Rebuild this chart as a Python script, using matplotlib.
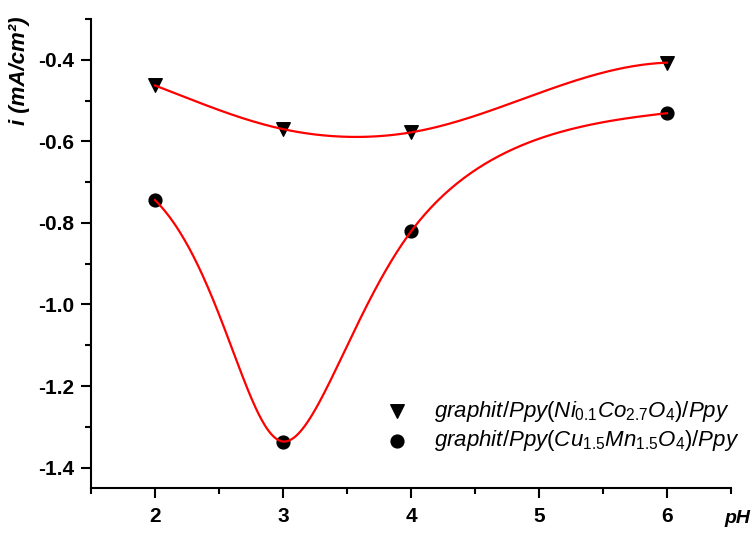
import numpy as np
import matplotlib.pyplot as plt
from matplotlib.ticker import MultipleLocator

plt.rcParams['font.family'] = 'Liberation Sans'
plt.rcParams['mathtext.fontset'] = 'custom'
plt.rcParams['mathtext.it'] = 'Liberation Sans:italic'
plt.rcParams['mathtext.rm'] = 'Liberation Sans'

# data
ph = [2, 3, 4, 6]
i_nico = [-0.463, -0.570, -0.578, -0.407]
i_cumn = [-0.744, -1.336, -0.821, -0.531]
label_nico = r'$\mathit{graphit/Ppy(Ni_{0.1}Co_{2.7}O_{4})/Ppy}$'
label_cumn = r'$\mathit{graphit/Ppy(Cu_{1.5}Mn_{1.5}O_{4})/Ppy}$'
# end slopes of the smoothing curves (dy/dx at pH 2 and pH 6)
ends_nico = (-0.12, 0.012)
ends_cumn = (-0.31, 0.035)


def clamped_spline(t, y, d0, d1, ts):
    t = np.asarray(t, float)
    y = np.asarray(y, float)
    k = len(t)
    h = np.diff(t)
    A = np.zeros((k, k))
    b = np.zeros(k)
    A[0, 0], A[0, 1] = 2 * h[0], h[0]
    b[0] = 6 * ((y[1] - y[0]) / h[0] - d0)
    A[-1, -2], A[-1, -1] = h[-1], 2 * h[-1]
    b[-1] = 6 * (d1 - (y[-1] - y[-2]) / h[-1])
    for j in range(1, k - 1):
        A[j, j - 1] = h[j - 1]
        A[j, j] = 2 * (h[j - 1] + h[j])
        A[j, j + 1] = h[j]
        b[j] = 6 * ((y[j + 1] - y[j]) / h[j] - (y[j] - y[j - 1]) / h[j - 1])
    m = np.linalg.solve(A, b)
    idx = np.clip(np.searchsorted(t, ts) - 1, 0, k - 2)
    t0, t1 = t[idx], t[idx + 1]
    hh = t1 - t0
    a, c = t1 - ts, ts - t0
    return (m[idx] * a**3 + m[idx + 1] * c**3) / (6 * hh) \
        + (y[idx] / hh - m[idx] * hh / 6) * a \
        + (y[idx + 1] / hh - m[idx + 1] * hh / 6) * c


def param_spline(x, y, ends, sx=128.0, sy=408.0, n=300):
    # chord-length parametric spline in screen pixels, clamped end directions
    px = np.asarray(x, float) * sx
    py = np.asarray(y, float) * sy
    t = np.concatenate([[0], np.cumsum(np.hypot(np.diff(px), np.diff(py)))])
    ts = np.linspace(0, t[-1], n)
    dirs = []
    for s in ends:
        v = np.array([sx, s * sy])
        dirs.append(v / np.hypot(*v))
    xs = clamped_spline(t, px, dirs[0][0], dirs[1][0], ts) / sx
    ys = clamped_spline(t, py, dirs[0][1], dirs[1][1], ts) / sy
    return xs, ys


fig = plt.figure(figsize=(7.55, 5.34), dpi=100)
ax = fig.add_axes([91 / 755, 46 / 534, 640 / 755, 469 / 534])

ax.scatter(ph, i_nico, marker='v', s=95, color='black', label=label_nico, zorder=2)
ax.scatter(ph, i_cumn, marker='o', s=85, color='black', label=label_cumn, zorder=2)
xs, ys = param_spline(ph, i_nico, ends_nico)
ax.plot(xs, ys, color='red', lw=1.6, zorder=3)
xs, ys = param_spline(ph, i_cumn, ends_cumn)
ax.plot(xs, ys, color='red', lw=1.6, zorder=3)

ax.set_xlim(1.5, 6.5)
ax.set_ylim(-1.45, -0.3)
ax.xaxis.set_major_locator(MultipleLocator(1))
ax.xaxis.set_minor_locator(MultipleLocator(0.5))
ax.yaxis.set_major_locator(MultipleLocator(0.2))
ax.yaxis.set_minor_locator(MultipleLocator(0.1))
ax.yaxis.set_major_formatter(lambda v, p: f'{v:.1f}'.replace('\u2212', '-'))

ax.spines['top'].set_visible(False)
ax.spines['right'].set_visible(False)
for s in ['left', 'bottom']:
    ax.spines[s].set_linewidth(1.5)
ax.tick_params(which='major', direction='out', length=7, width=1.5, labelsize=15)
ax.tick_params(axis='x', which='major', pad=7)
ax.tick_params(axis='y', which='major', pad=5)
ax.tick_params(which='minor', direction='out', length=4, width=1.5)
for lab in ax.get_xticklabels() + ax.get_yticklabels():
    lab.set_fontweight('bold')

ax.set_ylabel('i (mA/cm²)', fontsize=16, fontweight='bold', style='italic')
ax.yaxis.set_label_coords(-0.095, 0.89)
ax.text(1.01, -0.066, 'pH', transform=ax.transAxes, fontsize=14,
        fontweight='bold', style='italic', ha='center', va='center')

ax.legend(loc='lower right', bbox_to_anchor=(1.045, 0.031), frameon=False,
          fontsize=16, handletextpad=0.7, labelspacing=0.2, scatterpoints=1)

fig.savefig('out.png', dpi=100)
